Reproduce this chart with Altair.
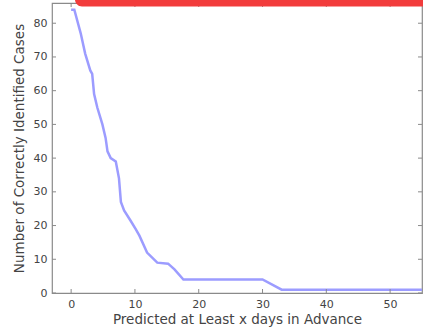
import altair as alt
import pandas as pd

# Curve
days = [0, 0.5, 1.5, 2.2, 3.0, 3.3, 3.6, 4.1, 4.9, 5.4, 5.7, 6.2, 7.0, 7.5, 7.8,
        8.3, 9.3, 10.1, 10.7, 11.9, 13.5, 15.2, 16.2, 17.6, 30.0, 33.0, 55.0]
cases = [84, 84, 77, 71, 66, 65, 59, 55, 50, 46, 42, 40, 39, 34, 27,
         24.5, 21.5, 19, 17, 12, 9, 8.7, 7, 4, 4, 1, 1]

x_ticks = [0, 10, 20, 30, 40, 50]
y_ticks = [0, 10, 20, 30, 40, 50, 60, 70, 80]

W, H = 370, 290
FRAME = "#8a8a8a"
TEXT = "#444444"

df = pd.DataFrame({"day": days, "cases": cases})
xt = pd.DataFrame({"day": x_ticks})
yt = pd.DataFrame({"cases": y_ticks})

xscale = alt.Scale(domain=[-3, 55], nice=False, zero=False)
yscale = alt.Scale(domain=[0, 86], nice=False)

common = dict(grid=False, domain=False, ticks=False, labelPadding=5,
              labelFontSize=11, titleFontSize=13.5, titleFontWeight="normal",
              labelColor=TEXT, titleColor=TEXT, labelOverlap=False,
              labelFont="DejaVu Sans", titleFont="DejaVu Sans")
xaxis = alt.Axis(values=x_ticks, title="Predicted at Least x days in Advance",
                 titlePadding=3, **common)
yaxis = alt.Axis(values=y_ticks, title="Number of Correctly Identified Cases",
                 titlePadding=7, **common)

X = alt.X("day:Q", scale=xscale, axis=xaxis)
Y = alt.Y("cases:Q", scale=yscale, axis=yaxis)

line = alt.Chart(df).mark_line(color="#9c9cff", strokeWidth=2.5, clip=True).encode(x=X, y=Y)

tick_bottom = alt.Chart(xt).mark_rule(color=FRAME, strokeWidth=1).encode(
    x=X, y=alt.value(H), y2=alt.value(H - 4))
tick_top = alt.Chart(xt).mark_rule(color=FRAME, strokeWidth=1).encode(
    x=X, y=alt.value(0), y2=alt.value(4))
tick_left = alt.Chart(yt).mark_rule(color=FRAME, strokeWidth=1).encode(
    y=Y, x=alt.value(0), x2=alt.value(4))
tick_right = alt.Chart(yt).mark_rule(color=FRAME, strokeWidth=1).encode(
    y=Y, x=alt.value(W), x2=alt.value(W - 4))

banner = alt.Chart(alt.Data(values=[{"b": 1}])).mark_rect(
    color="#f23c3c", cornerRadius=7, clip=False).encode(
    x=alt.value(23), x2=alt.value(W + 10), y=alt.value(-20), y2=alt.value(3.5))

chart = alt.layer(line, tick_bottom, tick_top, tick_left, tick_right, banner).properties(
    width=W, height=H,
    autosize=alt.AutoSizeParams(type="none"),
    padding={"left": 52, "top": 3, "right": 1, "bottom": 35},
    background="white",
).configure_view(stroke=FRAME, strokeWidth=1.2)

chart.save("out.html", embed_options={"renderer": "svg", "actions": False})
